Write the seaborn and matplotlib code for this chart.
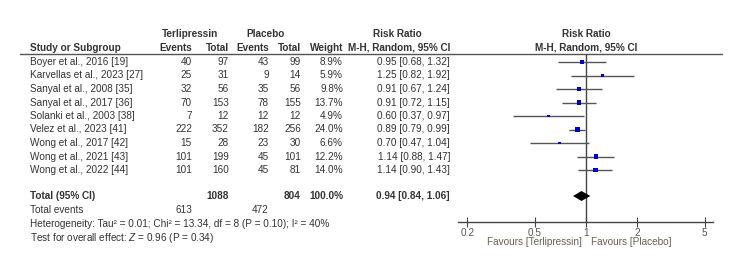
import numpy as np
import pandas as pd
import seaborn as sns
import matplotlib as mpl
import matplotlib.pyplot as plt

sns.set_style('white')
plt.rcParams['font.family'] = ['Liberation Sans', 'DejaVu Sans']
plt.rcParams['mathtext.fontset'] = 'custom'
plt.rcParams['mathtext.it'] = 'Liberation Sans:italic'
plt.rcParams['mathtext.rm'] = 'Liberation Sans'

studies = ['Boyer et al., 2016 [19]', 'Karvellas et al., 2023 [27]', 'Sanyal et al., 2008 [35]',
           'Sanyal et al., 2017 [36]', 'Solanki et al., 2003 [38]', 'Velez et al., 2023 [41]',
           'Wong et al., 2017 [42]', 'Wong et al., 2021 [43]', 'Wong et al., 2022 [44]']
terl_events = [40, 25, 32, 70, 7, 222, 15, 101, 101]
terl_total = [97, 31, 56, 153, 12, 352, 28, 199, 160]
plac_events = [43, 9, 35, 78, 12, 182, 23, 45, 45]
plac_total = [99, 14, 56, 155, 12, 256, 30, 101, 81]
weights = [8.9, 5.9, 9.8, 13.7, 4.9, 24.0, 6.6, 12.2, 14.0]
rr = [0.95, 1.25, 0.91, 0.91, 0.60, 0.89, 0.70, 1.14, 1.14]
ci_lo = [0.68, 0.82, 0.67, 0.72, 0.37, 0.79, 0.47, 0.88, 0.90]
ci_hi = [1.32, 1.92, 1.24, 1.15, 0.97, 0.99, 1.04, 1.47, 1.43]
pooled = (0.94, 0.84, 1.06)
tot_terl, tot_plac = 1088, 804
events_terl, events_plac = 613, 472
ticks = [0.2, 0.5, 1, 2, 5]

df = pd.DataFrame({'study': studies, 'rr': rr, 'lo': ci_lo, 'hi': ci_hi,
                   'weight': weights, 'row': np.arange(len(studies))})

TXT = '#333333'
FS = 7.2
W, H = 750, 268
row_y = lambda i: 62 + 13.5 * i
total_y = 196

fig = plt.figure(figsize=(7.5, 2.68), dpi=100)
ax = fig.add_axes([0, 0, 1, 1])
ax.set_xlim(0, W)
ax.set_ylim(H, 0)
ax.axis('off')

def t(x, y, s, ha='left', bold=False, color=TXT):
    ax.text(x, y, s, ha=ha, va='center', fontsize=FS, color=color,
            fontweight='bold' if bold else 'normal')

# headers
t(190, 34, 'Terlipressin', 'center', True)
t(266, 34, 'Placebo', 'center', True)
t(397, 34, 'Risk Ratio', 'center', True)
t(586, 34, 'Risk Ratio', 'center', True)
t(30, 48, 'Study or Subgroup', bold=True)
for xr, lab in [(192, 'Events'), (229, 'Total'), (269, 'Events'), (301, 'Total'), (343, 'Weight')]:
    t(xr, 48, lab, 'right', True)
t(450, 48, 'M-H, Random, 95% CI', 'right', True)
t(586, 48, 'M-H, Random, 95% CI', 'center', True)
ax.plot([20, 722], [54, 54], color='#555555', lw=1)

# study rows
for i, r in df.iterrows():
    y = row_y(i)
    t(30, y, r['study'])
    t(192, y, str(terl_events[i]), 'right')
    t(229, y, str(terl_total[i]), 'right')
    t(269, y, str(plac_events[i]), 'right')
    t(301, y, str(plac_total[i]), 'right')
    t(343, y, f"{r['weight']:.1f}%", 'right')
    t(450, y, f"{r['rr']:.2f} [{r['lo']:.2f}, {r['hi']:.2f}]", 'right')

# totals
t(30, total_y, 'Total (95% CI)', bold=True)
t(229, total_y, str(tot_terl), 'right', True)
t(301, total_y, str(tot_plac), 'right', True)
t(343, total_y, '100.0%', 'right', True)
t(450, total_y, f'{pooled[0]:.2f} [{pooled[1]:.2f}, {pooled[2]:.2f}]', 'right', True)
t(30, 210, 'Total events')
t(192, 210, str(events_terl), 'right')
t(269, 210, str(events_plac), 'right')
t(30, 224, 'Heterogeneity: Tau² = 0.01; Chi² = 13.34, df = 8 (P = 0.10); I² = 40%')
t(30, 238, 'Test for overall effect: $Z$ = 0.96 (P = 0.34)')

# forest panel: x=1 at 586px, 170 px per decade; rows share the text grid
px_dec = 170.0
x0, x1 = 458, 713
xmin = 10 ** ((x0 - 586) / px_dec)
xmax = 10 ** ((x1 - 586) / px_dec)
ytop, ybot = 54, 222
axf = fig.add_axes([x0 / W, (H - ybot) / H, (x1 - x0) / W, (ybot - ytop) / H])
axf.set_xscale('log')
axf.set_xlim(xmin, xmax)
axf.set_ylim((ybot - 62) / 13.5, (ytop - 62) / 13.5)
axf.patch.set_alpha(0)
for s in ['top', 'left', 'right']:
    axf.spines[s].set_visible(False)
axf.spines['bottom'].set_color('#444444')
axf.spines['bottom'].set_linewidth(1)

axf.axvline(1, color='#444444', lw=1, zorder=1)
axf.hlines(df['row'], df['lo'], df['hi'], color='#555555', lw=1, zorder=2)
sns.scatterplot(data=df, x='rr', y='row', size='weight', sizes=(0.7 * 4.9, 0.7 * 24),
                size_norm=(4.9, 24), marker='s', color='#0000cc', linewidth=0,
                legend=False, ax=axf, zorder=3)
ty = (total_y - 62) / 13.5
dh = 5 / 13.5
axf.fill([pooled[1], pooled[0], pooled[2], pooled[0]], [ty, ty - dh, ty, ty + dh],
         color='black', lw=0, zorder=3)

axf.set_xticks(ticks)
axf.set_xticklabels([f'{v:g}' for v in ticks])
axf.xaxis.set_minor_locator(mpl.ticker.NullLocator())
axf.tick_params(axis='x', direction='inout', length=7, width=0.8, color='#444444',
                labelsize=FS, labelcolor='#555555', pad=1, bottom=True)
axf.set_yticks([])
axf.set_xlabel('')
axf.set_ylabel('')

t(582, 242, 'Favours [Terlipressin]', 'right', color='#6b604f')
t(591, 242, 'Favours [Placebo]', 'left', color='#6b604f')

fig.savefig('out.png', dpi=100)
